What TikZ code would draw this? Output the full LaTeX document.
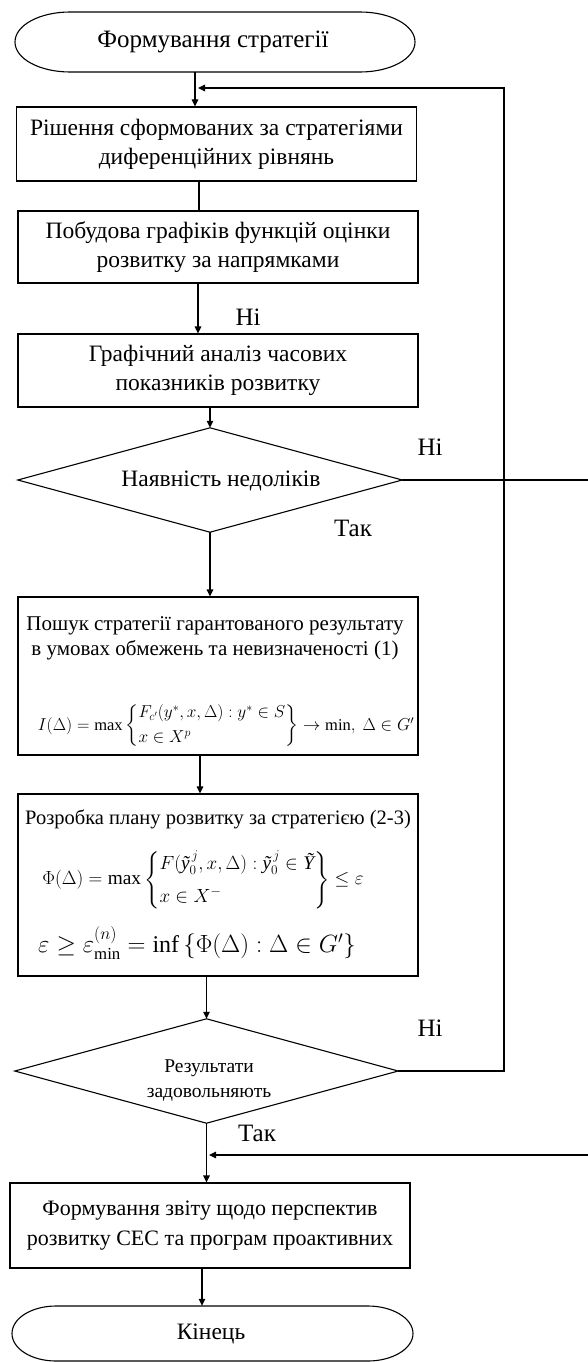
\documentclass[tikz,border=0pt]{standalone}
\usepackage{amsmath}
\usepackage{fontspec}
\setmainfont{Liberation Serif}
\usetikzlibrary{arrows.meta,calc}
\newcommand{\ty}{\text{\itshape ỹ}}
\newcommand{\tY}{\text{\itshape Ỹ}}
\tikzset{
  ln/.style={line width=1.1pt},
  arr/.style={ln,-{Triangle[length=7pt,width=6.5pt]}},
  stepbox/.style={draw,line width=1.1pt,minimum width=400pt,inner sep=0pt,align=center,font=\fontsize{23.5}{29}\selectfont},
  ghost/.style={draw=none,inner sep=0pt,align=center},
  lab/.style={inner sep=0pt,font=\fontsize{25}{28}\selectfont},
  txt/.style={inner sep=0pt,align=center}
}
\begin{document}
\begin{tikzpicture}[x=1pt,y=-1pt]
\useasboundingbox (0,0) rectangle (588,1362);
% start terminal
\node[ghost,minimum width=290pt,minimum height=60pt,font=\fontsize{25}{28}\selectfont] (start) at (213,42) {Формування стратегії};
\draw[ln] (70,12) -- (360,12) .. controls (390,12) and (415,25) .. (415,42)
  .. controls (415,59) and (390,72) .. (360,72) -- (70,72)
  .. controls (40,72) and (15,59) .. (15,42) .. controls (15,25) and (40,12) .. (70,12) -- cycle;
% boxes
\node[stepbox,minimum height=74pt] (box1) at (216.5,144) {Рішення сформованих за стратегіями\\ диференційних рівнянь};
\node[stepbox,minimum height=72pt] (box2) at (218,247) {Побудова графіків функцій оцінки\\ розвитку за напрямками};
\node[stepbox,minimum height=73pt] (box3) at (218,370.5) {Графічний аналіз часових\\ показників розвитку};
% diamond 1
\node[ghost,minimum width=384pt,minimum height=104pt] (d1) at (210,480) {};
\draw[ln] (d1.north) -- (d1.east) -- (d1.south) -- (d1.west) -- cycle;
\node[txt,font=\fontsize{23.5}{26}\selectfont] (d1t) at (221,481) {Наявність недоліків};
% box 4
\node[stepbox,minimum height=158pt] (box4) at (218,676) {};
\node[txt,font=\fontsize{21}{25}\selectfont] (box4t) at (215,638) {Пошук стратегії гарантованого результату\\ в умовах обмежень та невизначеності (1)};
\node[txt,font=\fontsize{16.5}{20}\selectfont] (box4f) at (226,726) {$I(\Delta)=\max\left\{\begin{array}{@{}l@{}}F_{c'}(y^*,x,\Delta):y^*\in S\\[5pt] x\in X^{p}\end{array}\right\}\to\min,\ \Delta\in G'$};
% box 5
\node[stepbox,minimum height=182pt] (box5) at (218,885) {};
\node[txt,font=\fontsize{20.5}{24}\selectfont] (box5t) at (218,819) {Розробка плану розвитку за стратегією (2-3)};
\node[txt,font=\fontsize{21}{24}\selectfont] (box5f) at (203,880) {\scalebox{0.92}{$\Phi(\Delta)=\max\left\{\begin{array}{@{}l@{}}F(\ty_{0}^{\,j},x,\Delta):\ty_{0}^{\,j}\in\tY\\[12pt] x\in X^{-}\end{array}\right\}\le\varepsilon$}};
\node[txt,font=\fontsize{24}{28}\selectfont] (box5g) at (197,943) {$\varepsilon\ge\varepsilon_{\min}^{(n)}=\inf\left\{\Phi(\Delta):\Delta\in G'\right\}$};
% diamond 2
\node[ghost,minimum width=383pt,minimum height=104pt] (d2) at (206.5,1071) {};
\draw[ln] (d2.north) -- (d2.east) -- (d2.south) -- (d2.west) -- cycle;
\node[txt,font=\fontsize{19.5}{25}\selectfont] (d2t) at (209,1080) {Результати\\ задовольняють};
% box 6
\node[stepbox,minimum height=85pt,font=\fontsize{22}{30}\selectfont] (box6) at (210,1225.5) {Формування звіту щодо перспектив\\ розвитку СЕС та програм проактивних};
% end terminal
\node[ghost,minimum width=312pt,minimum height=55pt,font=\fontsize{23.5}{26}\selectfont] (fin) at (211,1333.5) {Кінець};
\draw[ln] (56,1306) -- (368,1306) .. controls (392,1306) and (413,1318) .. (413,1333.5)
  .. controls (413,1349) and (392,1361) .. (368,1361) -- (56,1361)
  .. controls (32,1361) and (12,1349) .. (12,1333.5) .. controls (12,1318) and (32,1306) .. (56,1306) -- cycle;
% column coordinates
\coordinate (c1) at (195,0);
\coordinate (c2) at (199,0);
\coordinate (c3) at (198,0);
\coordinate (c6) at (200,0);
\coordinate (c9) at (202,0);
\coordinate (loopin) at (198,88);
\coordinate (loopcorner) at (504,88);
\coordinate (edgeout) at (588,480);
\coordinate (edgein) at (588,1155);
\coordinate (retin) at (209,1155);
% connectors
\draw[arr] (start.south -| c1) -- (box1.north -| c1);
\draw[ln] (box1.south -| c2) -- (box2.north -| c2);
\draw[arr] (box2.south -| c3) -- (box3.north -| c3);
\draw[arr] (box3.south -| d1.north) -- (d1.north);
\draw[arr] (d1.south) -- (box4.north -| d1.south);
\draw[arr] (box4.south -| c6) -- (box5.north -| c6);
\draw[arr] (box5.south -| d2.north) -- (d2.north);
\draw[arr] (d2.south) -- (box6.north -| d2.south);
\draw[arr] (box6.south -| c9) -- (fin.north -| c9);
\draw[arr] (d2.east) -| (loopcorner) -- (loopin);
\draw[ln] (d1.east) -- (edgeout);
\draw[arr] (edgein) -- (retin);
% labels
\node[lab] (l1) at (248,317) {Ні};
\node[lab] (l2) at (430,447) {Ні};
\node[lab] (l3) at (353,528) {Так};
\node[lab] (l4) at (430,1028) {Ні};
\node[lab] (l5) at (257,1133) {Так};
\end{tikzpicture}
\end{document}
